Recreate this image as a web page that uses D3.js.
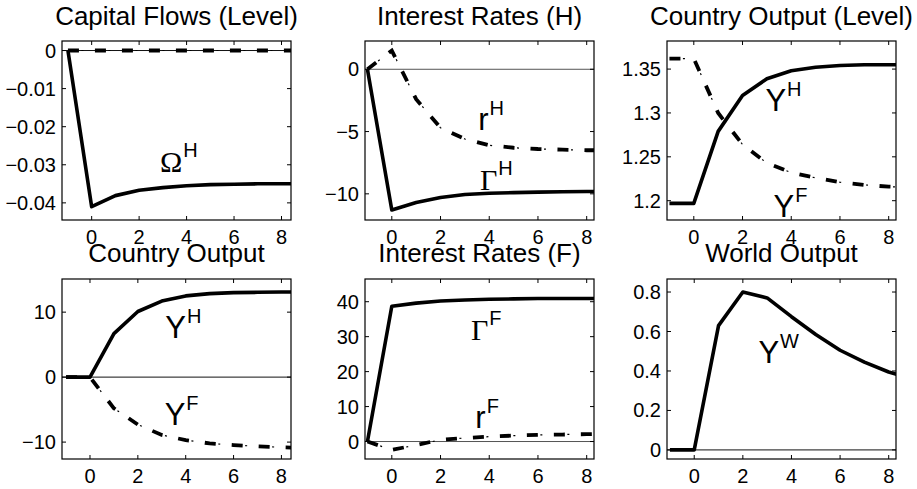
<!DOCTYPE html>
<html>
<head>
<meta charset="utf-8">
<script src="https://cdn.jsdelivr.net/npm/d3@7"></script>
<style>
  body { margin: 0; background: #fff; }
  text { font-family: "Liberation Sans", Arial, Helvetica, sans-serif; fill: #000; }
  .greek { font-family: "Liberation Serif", "Times New Roman", serif; }
</style>
</head>
<body>
<script>
// periods shown on every x axis (the last one is clipped by the box)
var periods = [-1, 0, 1, 2, 3, 4, 5, 6, 7, 8, 9];

// series values
var capFlowH   = [0, -0.041, -0.0381, -0.0367, -0.036, -0.0355, -0.0352, -0.0351, -0.035, -0.035, -0.035];
var capFlowF   = [0, 0, 0, 0, 0, 0, 0, 0, 0, 0, 0];
var gammaH     = [0, -11.3, -10.7, -10.3, -10.05, -9.95, -9.9, -9.86, -9.83, -9.81, -9.8];
var rateH      = [0, 1.5, -2.4, -4.7, -5.6, -6.1, -6.3, -6.4, -6.45, -6.5, -6.5];
var levelYH    = [1.197, 1.197, 1.279, 1.32, 1.339, 1.348, 1.352, 1.354, 1.355, 1.355, 1.355];
var levelYF    = [1.362, 1.362, 1.30, 1.264, 1.243, 1.232, 1.226, 1.221, 1.218, 1.216, 1.215];
var outputYH   = [0, 0, 6.7, 10.1, 11.7, 12.5, 12.85, 13.0, 13.05, 13.1, 13.1];
var outputYF   = [0, 0, -4.8, -7.3, -8.9, -9.7, -10.2, -10.45, -10.65, -10.8, -10.9];
var gammaF     = [0, 38.7, 39.6, 40.2, 40.5, 40.7, 40.8, 40.9, 40.9, 40.9, 40.9];
var rateF      = [0, -2.4, -1.0, 0.5, 1.0, 1.4, 1.7, 1.9, 2.0, 2.1, 2.2];
var worldY     = [0, 0, 0.63, 0.80, 0.77, 0.675, 0.585, 0.505, 0.445, 0.395, 0.36];

var titles = ["Capital Flows (Level)", "Interest Rates (H)", "Country Output (Level)",
              "Country Output", "Interest Rates (F)", "World Output"];
var xTicks = [0, 2, 4, 6, 8];
var yTicks = [
  [0, -0.01, -0.02, -0.03, -0.04],
  [0, -5, -10],
  [1.2, 1.25, 1.3, 1.35],
  [-10, 0, 10],
  [0, 10, 20, 30, 40],
  [0, 0.2, 0.4, 0.6, 0.8]
];
var xDomains = [[-1.25, 8.4], [-1.1, 8.3], [-1.1, 8.3], [-1.17, 8.4], [-1.1, 8.3], [-1.12, 8.3]];
var yDomains = [[-0.0445, 0.0025], [-12.1, 2.27], [1.178, 1.382], [-12.6, 15.1], [-5, 46.5], [-0.046, 0.866]];
var solidSeries = [capFlowH, gammaH, levelYH, outputYH, gammaF, worldY];
var dashSeries  = [capFlowF, rateH, levelYF, outputYF, rateF, null];
var hasZeroLine = [true, true, false, true, true, true];

// annotations: base letter, superscript, data position of the baseline start
var labels = [
  [{b: "\u03A9", s: "H", x: 2.88, y: -0.0319, greek: true}],
  [{b: "r", s: "H", x: 3.55, y: -4.86}, {b: "\u0393", s: "H", x: 3.62, y: -9.67, greek: true}],
  [{b: "Y", s: "H", x: 2.94, y: 1.302}, {b: "Y", s: "F", x: 3.27, y: 1.181}],
  [{b: "Y", s: "H", x: 3.15, y: 6.0}, {b: "Y", s: "F", x: 3.12, y: -7.34}],
  [{b: "\u0393", s: "F", x: 3.25, y: 29.1, greek: true}, {b: "r", s: "F", x: 3.43, y: 3.84}],
  [{b: "Y", s: "W", x: 2.64, y: 0.44}]
];

var width = 917, height = 489;
var colX = [[62, 291], [365, 594], [667, 896]];
var rowY = [[41, 220], [279, 459]];
var tickLen = 4;

var svg = d3.select("body").append("svg")
  .attr("width", width)
  .attr("height", height);

function fmt(v) {
  var s = String(+v.toFixed(4));
  return s.replace("-", "\u2212");
}

titles.forEach(function(title, i) {
  var col = i % 3, row = Math.floor(i / 3);
  var x0 = colX[col][0], x1 = colX[col][1];
  var y0 = rowY[row][0], y1 = rowY[row][1];

  var x = d3.scaleLinear().domain(xDomains[i]).range([x0, x1]);
  var y = d3.scaleLinear().domain(yDomains[i]).range([y1, y0]);

  var g = svg.append("g");

  g.append("clipPath").attr("id", "clip" + i)
    .append("rect")
    .attr("x", x0).attr("y", y0)
    .attr("width", x1 - x0).attr("height", y1 - y0);

  var plot = g.append("g").attr("clip-path", "url(#clip" + i + ")");

  if (hasZeroLine[i]) {
    plot.append("line")
      .attr("x1", x0).attr("x2", x1)
      .attr("y1", y(0)).attr("y2", y(0))
      .style("stroke", (col === 1) ? "#555" : "#111")
      .style("stroke-width", 1);
  }

  var line = d3.line()
    .x(function(d, k) { return x(periods[k]); })
    .y(function(d) { return y(d); });

  if (dashSeries[i]) {
    // dash-dot: thick dashes plus thin dots in the gaps
    plot.append("path")
      .attr("d", line(dashSeries[i]))
      .style("fill", "none")
      .style("stroke", "#000")
      .style("stroke-width", 3.8)
      .style("stroke-dasharray", "11,16");
    plot.append("path")
      .attr("d", line(dashSeries[i]))
      .style("fill", "none")
      .style("stroke", "#000")
      .style("stroke-width", 1.2)
      .style("stroke-dasharray", "0,13.5,2,11.5");
  }

  plot.append("path")
    .attr("d", line(solidSeries[i]))
    .style("fill", "none")
    .style("stroke", "#000")
    .style("stroke-width", 3.6)
    .style("stroke-linejoin", "round");

  // box
  g.append("rect")
    .attr("x", x0).attr("y", y0)
    .attr("width", x1 - x0).attr("height", y1 - y0)
    .style("fill", "none")
    .style("stroke", "#000")
    .style("stroke-width", 1.2);

  // x ticks, inside on bottom and top
  xTicks.forEach(function(t) {
    g.append("line").attr("x1", x(t)).attr("x2", x(t))
      .attr("y1", y1).attr("y2", y1 - tickLen).style("stroke", "#000");
    g.append("line").attr("x1", x(t)).attr("x2", x(t))
      .attr("y1", y0).attr("y2", y0 + tickLen).style("stroke", "#000");
    g.append("text")
      .attr("x", x(t)).attr("y", y1 + 24)
      .attr("text-anchor", "middle")
      .style("font-size", "20px")
      .text(fmt(t));
  });

  // y ticks, inside on left and right
  yTicks[i].forEach(function(t) {
    g.append("line").attr("x1", x0).attr("x2", x0 + tickLen)
      .attr("y1", y(t)).attr("y2", y(t)).style("stroke", "#000");
    g.append("line").attr("x1", x1).attr("x2", x1 - tickLen)
      .attr("y1", y(t)).attr("y2", y(t)).style("stroke", "#000");
    g.append("text")
      .attr("x", x0 - 6).attr("y", y(t))
      .attr("dy", "0.35em")
      .attr("text-anchor", "end")
      .style("font-size", "20px")
      .text(fmt(t));
  });

  g.append("text")
    .attr("x", (x0 + x1) / 2)
    .attr("y", row === 0 ? 25 : 262)
    .attr("text-anchor", "middle")
    .style("font-size", "26px")
    .text(title);

  labels[i].forEach(function(l) {
    var t = g.append("text")
      .attr("x", x(l.x)).attr("y", y(l.y));
    t.append("tspan")
      .attr("class", l.greek ? "greek" : null)
      .style("font-size", l.greek ? "30px" : "31px")
      .text(l.b);
    t.append("tspan")
      .attr("dy", -15)
      .attr("dx", 1)
      .style("font-size", "20px")
      .text(l.s);
  });
});
</script>
</body>
</html>
